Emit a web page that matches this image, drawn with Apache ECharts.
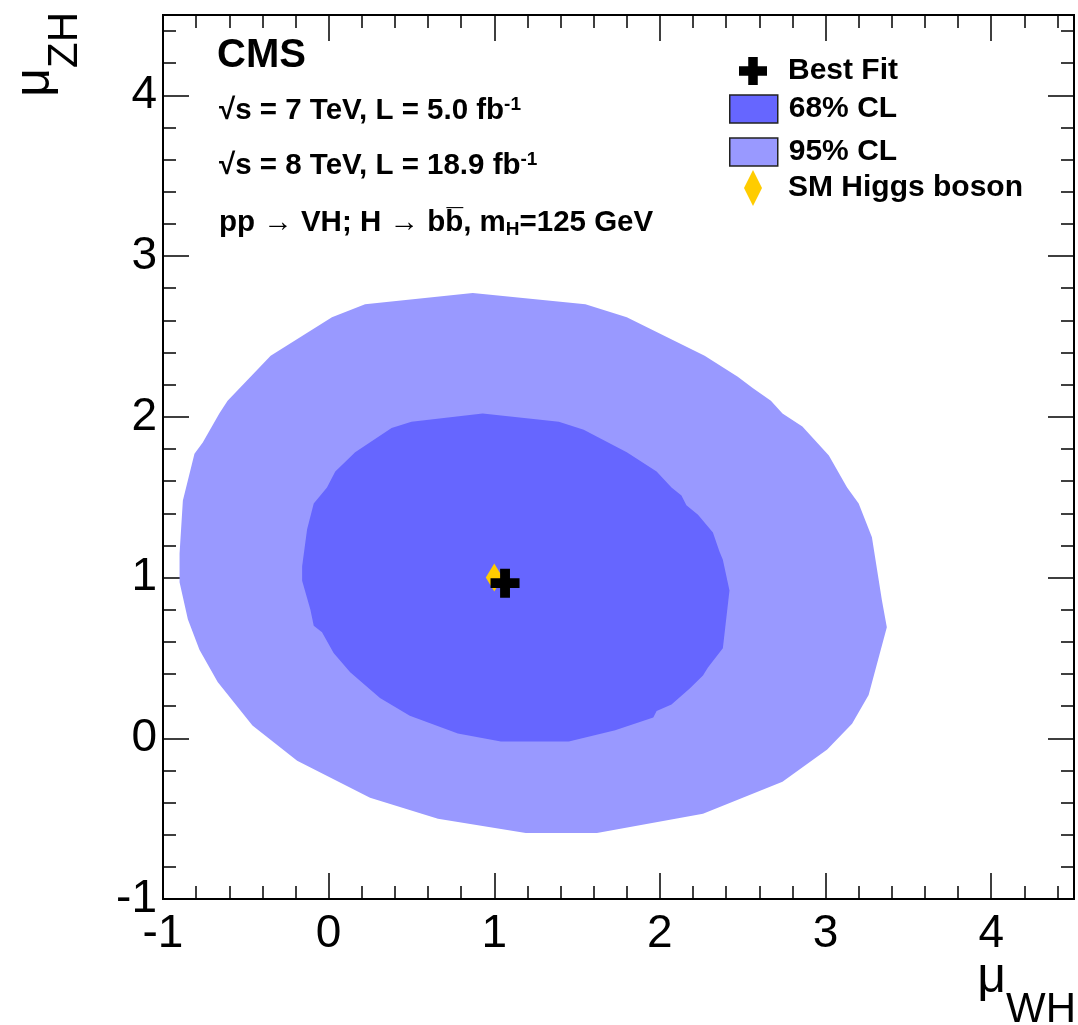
<!DOCTYPE html>
<html>
<head>
<meta charset="utf-8">
<script src="https://cdn.jsdelivr.net/npm/echarts@6/dist/echarts.min.js"></script>
<style>
  html, body { margin: 0; padding: 0; background: #fff; }
  #chart { width: 1078px; height: 1025px; }
</style>
</head>
<body>
<div id="chart"></div>
<script>
// 95% CL contour in the (mu_WH, mu_ZH) plane
const cl95 = [
  [-0.90, 0.97], [-0.90, 1.15], [-0.88, 1.48], [-0.81, 1.77], [-0.76, 1.84],
  [-0.66, 2.02], [-0.61, 2.10], [-0.35, 2.38], [0.02, 2.62], [0.22, 2.70],
  [0.87, 2.77], [1.55, 2.70], [1.80, 2.62], [2.27, 2.38], [2.47, 2.25],
  [2.56, 2.18], [2.67, 2.10], [2.74, 2.02], [2.86, 1.94], [3.02, 1.76],
  [3.13, 1.56], [3.20, 1.46], [3.28, 1.25], [3.34, 0.86], [3.37, 0.69],
  [3.26, 0.27], [3.16, 0.09], [3.01, -0.07], [2.74, -0.27], [2.26, -0.47],
  [1.62, -0.59], [1.19, -0.59], [0.66, -0.50], [0.25, -0.37], [-0.19, -0.14],
  [-0.46, 0.08], [-0.67, 0.35], [-0.78, 0.55], [-0.85, 0.74]
];

// 68% CL contour
const cl68 = [
  [-0.16, 1.07], [-0.13, 1.30], [-0.09, 1.46], [-0.01, 1.56], [0.04, 1.66],
  [0.16, 1.78], [0.38, 1.93], [0.50, 1.97], [0.93, 2.02], [1.39, 1.97],
  [1.54, 1.92], [1.80, 1.78], [1.98, 1.66], [2.07, 1.56], [2.13, 1.51],
  [2.16, 1.45], [2.23, 1.39], [2.32, 1.28], [2.36, 1.16], [2.38, 1.11],
  [2.42, 0.92], [2.38, 0.56], [2.29, 0.44], [2.26, 0.39], [2.18, 0.31],
  [2.07, 0.21], [1.98, 0.17], [1.96, 0.13], [1.73, 0.05], [1.45, -0.02],
  [1.04, -0.02], [0.78, 0.03], [0.49, 0.14], [0.31, 0.25], [0.13, 0.41],
  [0.03, 0.53], [-0.04, 0.66], [-0.09, 0.70], [-0.11, 0.80], [-0.16, 0.98]
];

const bestFit = [1.065, 0.965];
const smHiggs = [1.0, 1.0];

const axisMin = -1;
const axisMax = 4.5;
const majorStep = 1;
const minorStep = 0.2;

const FONT = '"Liberation Sans", Arial, Helvetica, sans-serif';
const crossPath = 'path://M0.33,0H0.67V0.33H1V0.67H0.67V1H0.33V0.67H0V0.33H0.33Z';
const diamondPath = 'path://M1,0L2,2L1,4L0,2Z';

const chart = echarts.init(document.getElementById('chart'), null, { renderer: 'canvas' });

function makeAxis(position, step, tickLen, withLabels) {
  return {
    type: 'value',
    position: position,
    min: axisMin,
    max: axisMax,
    interval: step,
    axisLine: { show: true, onZero: false, lineStyle: { color: '#000', width: 2 } },
    axisTick: { show: true, inside: true, length: tickLen, lineStyle: { color: '#000', width: 1.5 } },
    splitLine: { show: false },
    axisLabel: withLabels ? {
      show: true,
      showMaxLabel: false,
      margin: position === 'bottom' ? 12 : 6,
      color: '#000',
      fontSize: 46,
      fontFamily: FONT
    } : { show: false }
  };
}

function polygonSeries(name, pts, color, z) {
  return {
    name: name,
    type: 'custom',
    coordinateSystem: 'cartesian2d',
    xAxisIndex: 0,
    yAxisIndex: 0,
    z: z,
    silent: true,
    itemStyle: { color: color },
    data: pts,
    renderItem: function (params, api) {
      if (params.dataIndex !== 0) return null;
      return {
        type: 'polygon',
        shape: { points: pts.map(function (p) { return api.coord(p); }) },
        style: { fill: color, stroke: null }
      };
    }
  };
}

const textLines = [
  { top: 111, rich: '{r|\u221As = 7 TeV, L = 5.0 fb}{sup|-1}' },
  { top: 166, rich: '{r|\u221As = 8 TeV, L = 18.9 fb}{sup|-1}' },
  { top: 223, rich: '{r|pp \u2192 VH; H \u2192 bb\u0305, m}{sub|H}{r|=125 GeV}' }
];

const annotRich = {
  r: { fontSize: 29.5, fontWeight: 'bold', fontFamily: FONT, fill: '#000', color: '#000' },
  sup: { fontSize: 19, fontWeight: 'bold', fontFamily: FONT, fill: '#000', color: '#000', verticalAlign: 'top', padding: [0, 0, 12, 0] },
  sub: { fontSize: 19, fontWeight: 'bold', fontFamily: FONT, fill: '#000', color: '#000', verticalAlign: 'bottom', padding: [14, 0, 0, 0] }
};

const graphics = [
  {
    type: 'text', x: 217, y: 56,
    style: { text: 'CMS', font: 'bold 40px ' + FONT, fill: '#000', verticalAlign: 'middle' }
  }
].concat(textLines.map(function (l) {
  return {
    type: 'text', x: 219, y: l.top,
    style: { text: l.rich, rich: annotRich, fill: '#000', verticalAlign: 'middle' }
  };
})).concat([
  {
    type: 'text', x: 1076, y: 1031,
    style: {
      text: '{mu|\u03BC}{sub|WH}',
      align: 'right', verticalAlign: 'bottom',
      rich: {
        mu: { fontSize: 50, fontFamily: FONT, fill: '#000', verticalAlign: 'top' },
        sub: { fontSize: 42, fontFamily: FONT, fill: '#000', verticalAlign: 'bottom', padding: [36, 0, 0, 0] }
      }
    }
  },
  {
    type: 'text', x: 10, y: 12, rotation: Math.PI / 2,
    style: {
      text: '{mu|\u03BC}{sub|ZH}',
      align: 'right', verticalAlign: 'top',
      rich: {
        mu: { fontSize: 50, fontFamily: FONT, fill: '#000', verticalAlign: 'top' },
        sub: { fontSize: 42, fontFamily: FONT, fill: '#000', verticalAlign: 'bottom', padding: [34, 0, 0, 0] }
      }
    }
  }
]);

const legendText = { color: '#000', fontSize: 30, fontWeight: 'bold', fontFamily: FONT, lineHeight: 28 };

const option = {
  backgroundColor: '#fff',
  animation: false,
  grid: { left: 163, top: 15, right: 4, bottom: 126, show: false },
  xAxis: [
    makeAxis('bottom', majorStep, 26, true),
    makeAxis('bottom', minorStep, 13, false),
    makeAxis('top', majorStep, 26, false),
    makeAxis('top', minorStep, 13, false)
  ],
  yAxis: [
    makeAxis('left', majorStep, 26, true),
    makeAxis('left', minorStep, 13, false),
    makeAxis('right', majorStep, 26, false),
    makeAxis('right', minorStep, 13, false)
  ],
  legend: [
    {
      data: [{ name: 'Best Fit', icon: crossPath }],
      left: 739, top: 56, padding: 0,
      itemWidth: 28, itemHeight: 28,
      selectedMode: false,
      textStyle: Object.assign({ padding: [0, 0, 0, 16] }, legendText)
    },
    {
      data: [
        { name: '68% CL', icon: 'rect', itemStyle: { borderColor: '#222', borderWidth: 1.5 } },
        { name: '95% CL', icon: 'rect', itemStyle: { borderColor: '#222', borderWidth: 1.5 } }
      ],
      orient: 'vertical',
      left: 729, top: 94, padding: 0,
      itemWidth: 48, itemHeight: 28, itemGap: 13,
      selectedMode: false,
      textStyle: Object.assign({ padding: [0, 0, 0, 6] }, legendText)
    },
    {
      data: [{ name: 'SM Higgs boson', icon: diamondPath }],
      left: 744, top: 170, padding: 0,
      itemWidth: 18, itemHeight: 36,
      selectedMode: false,
      textStyle: Object.assign({ padding: [0, 0, 0, 21] }, legendText)
    }
  ],
  graphic: graphics,
  series: [
    polygonSeries('95% CL', cl95, '#9999ff', 1),
    polygonSeries('68% CL', cl68, '#6666ff', 2),
    {
      name: 'SM Higgs boson',
      type: 'scatter',
      z: 3,
      symbol: 'diamond',
      symbolSize: [17, 28],
      itemStyle: { color: '#ffcc00', opacity: 1 },
      data: [smHiggs]
    },
    {
      name: 'Best Fit',
      type: 'scatter',
      z: 4,
      symbol: crossPath,
      symbolSize: [29, 29],
      itemStyle: { color: '#000', opacity: 1 },
      data: [bestFit]
    }
  ]
};

chart.setOption(option);
</script>
</body>
</html>
